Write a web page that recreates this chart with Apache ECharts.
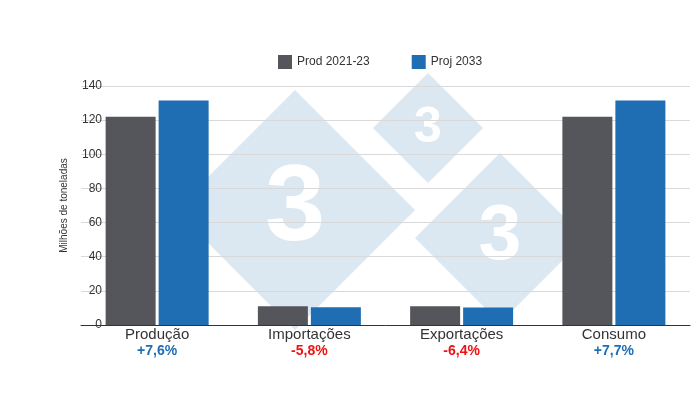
<!DOCTYPE html>
<html><head><meta charset="utf-8">
<script src="https://cdn.jsdelivr.net/npm/echarts@6/dist/echarts.min.js"></script>
<style>html,body{margin:0;padding:0;background:#fff}#c{width:700px;height:400px}</style>
</head><body><div id="c"></div>
<script>
const categories = ['Produção','Importações','Exportações','Consumo'];
const changes = ['+7,6%','-5,8%','-6,4%','+7,7%'];
const prod2123 = [122, 11, 11, 122];
const proj2033 = [131.5, 10.4, 10.3, 131.5];
const yTicks = [0,20,40,60,80,100,120,140];

const chart = echarts.init(document.getElementById('c'));
const diamond = (cx, cy, r) => ({
  type:'group', silent:true, z:-1,
  children:[
    {type:'polygon', shape:{points:[[cx,cy-r],[cx+r,cy],[cx,cy+r],[cx-r,cy]]}, style:{fill:'#dce8f1'}},
    {type:'text', style:{x:cx, y:cy, text:'3', fill:'#fff', font:'bold '+Math.round(r*0.9)+'px Arial', align:'center', verticalAlign:'middle'}}
  ]
});
chart.setOption({
  animation:false,
  textStyle:{fontFamily:'Arial, Liberation Sans, sans-serif'},
  graphic:[diamond(295,210,120), diamond(428,128,55), diamond(500,238,85)],
  legend:{top:50, left:273, itemWidth:14, itemHeight:14, itemGap:42, icon:'rect',
    textStyle:{fontSize:12,color:'#333'}},
  grid:{left:81, right:10, top:86, bottom:75},
  xAxis:{type:'category', data:categories,
    axisLine:{lineStyle:{color:'#333'}}, axisTick:{show:false},
    axisLabel:{interval:0, margin:2,
      formatter:(v)=>{const idx=categories.indexOf(v);const c=changes[idx];return '{a|'+v+'}\n'+(c[0]==='+'?'{p|':'{n|')+c+'}';},
      rich:{a:{fontSize:15,color:'#333',lineHeight:16},p:{fontSize:14,fontWeight:'bold',color:'#1f6db3',lineHeight:16},n:{fontSize:14,fontWeight:'bold',color:'#ee1111',lineHeight:16}}}},
  yAxis:{type:'value', min:0, max:140, interval:20,
    name:'Milhões de toneladas', nameLocation:'middle', nameGap:12, nameTextStyle:{fontSize:10,color:'#333'},
    axisLabel:{fontSize:12,color:'#333', margin:-21},
    splitLine:{lineStyle:{color:'#d9d9d9'}}},
  series:[
    {name:'Prod 2021-23', type:'bar', data:prod2123, barWidth:50, barGap:'6%', itemStyle:{color:'#54565b'}},
    {name:'Proj 2033', type:'bar', data:proj2033, barWidth:50, itemStyle:{color:'#1f6db3'}}
  ]
});
</script></body></html>
